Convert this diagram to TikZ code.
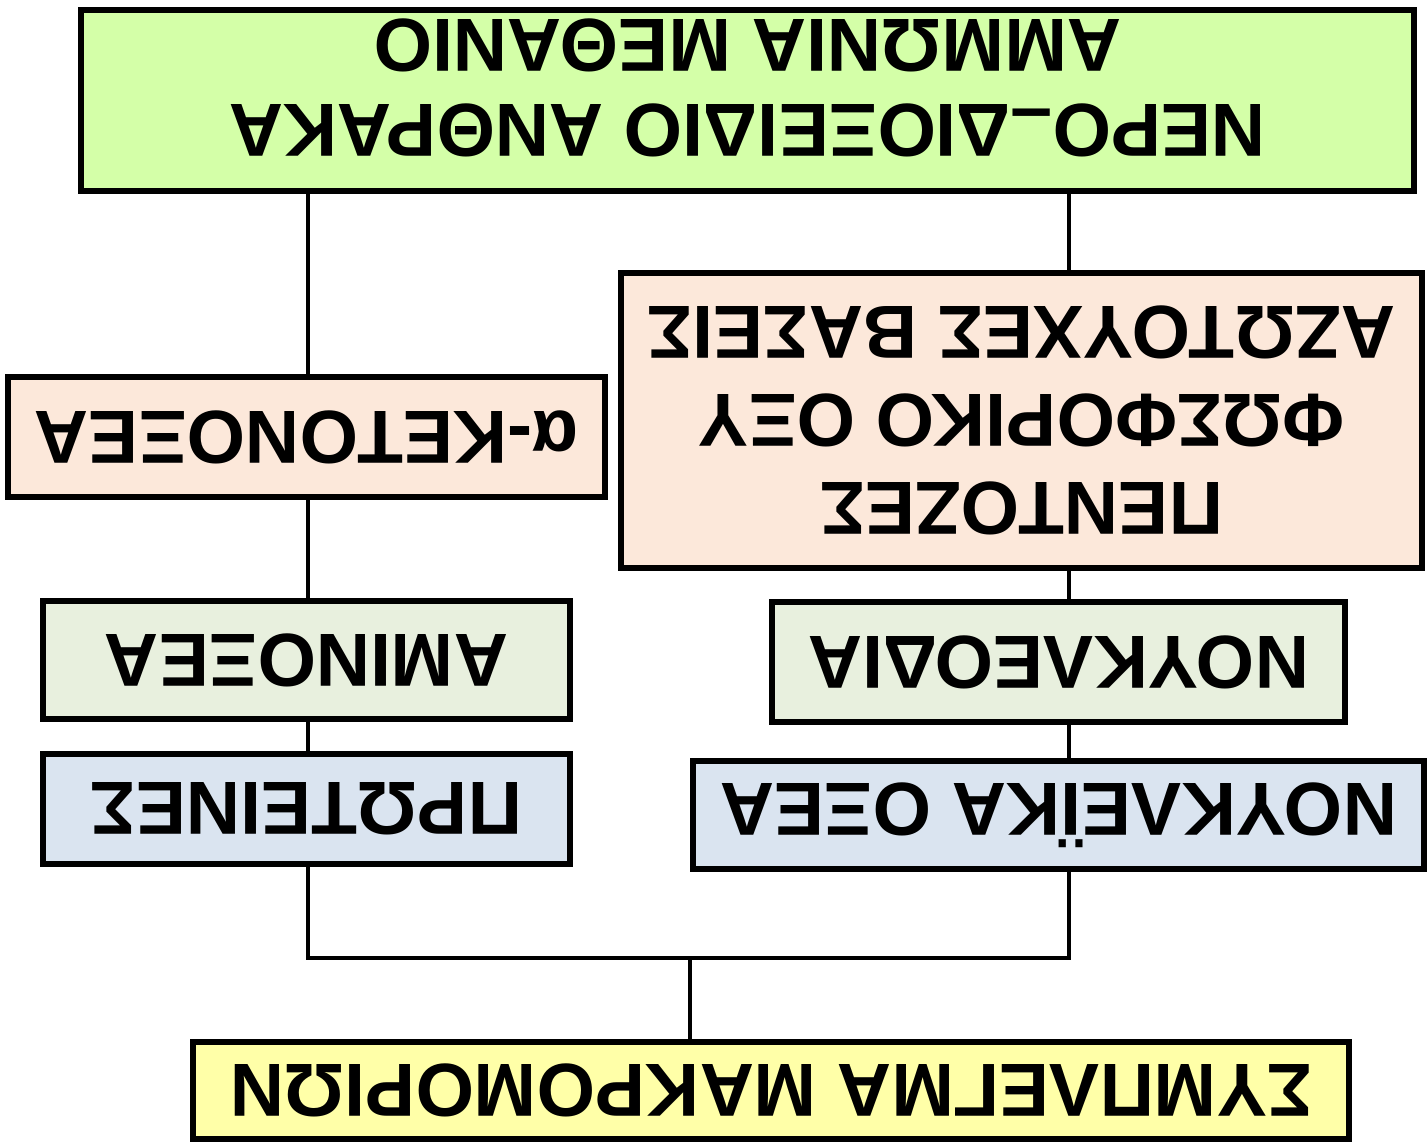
\documentclass[tikz,border=0pt]{standalone}
\usepackage{fontspec}
\setmainfont{Liberation Sans}
\usepackage{tikz}
\usetikzlibrary{positioning}
\definecolor{sumyellow}{RGB}{255,255,168}
\definecolor{acidblue}{RGB}{218,228,240}
\definecolor{unitgreen}{RGB}{232,240,222}
\definecolor{rawpeach}{RGB}{252,232,218}
\definecolor{basegreen}{RGB}{212,255,168}
\tikzstyle{tbox} = [rectangle, draw, line width=1.7pt, align=center, inner sep=0pt, font=\fontsize{21.4}{25}\selectfont\bfseries]
\tikzstyle{link} = [draw, line width=1pt]

\begin{document}
\begin{tikzpicture}[rotate=180, transform shape, node distance=1.5cm]
\useasboundingbox (0,0) rectangle (14.27,11.44);
\coordinate (ltrunk) at (3.58,0);
\coordinate (rtrunk) at (11.19,0);
\coordinate (fork) at (7.37,9.58);

\node [tbox, fill=sumyellow, minimum width=11.56cm, minimum height=0.97cm] (sum) at (6.56,10.905) {ΣΥΜΠΛΕΓΜΑ ΜΑΚΡΟΜΟΡΙΩΝ};

\node [tbox, fill=acidblue, minimum width=7.31cm, minimum height=1.08cm] (nacid) at (3.685,8.15) {ΝΟΥΚΛΕΪΚΑ ΟΞΕΑ};
\node [tbox, fill=unitgreen, minimum width=5.73cm, minimum height=1.2cm, below of=nacid, node distance=1.53cm] (nucleo) {ΝΟΥΚΛΕΟΔΙΑ};
\node [tbox, fill=rawpeach, minimum width=8.01cm, minimum height=2.95cm] (bases) at (4.055,4.205) {ΠΕΝΤΟΖΕΣ\\ΦΩΣΦΟΡΙΚΟ ΟΞΥ\\ΑΖΩΤΟΥΧΕΣ ΒΑΣΕΙΣ};

\node [tbox, fill=acidblue, minimum width=5.27cm, minimum height=1.1cm] (prot) at (11.205,8.09) {ΠΡΩΤΕΙΝΕΣ};
\node [tbox, fill=unitgreen, minimum width=5.27cm, minimum height=1.18cm, below of=prot, node distance=1.49cm] (amino) {ΑΜΙΝΟΞΕΑ};
\node [tbox, fill=rawpeach, minimum width=5.97cm, minimum height=1.2cm, below of=amino, node distance=2.23cm] (keto) {α-ΚΕΤΟΝΟΞΕΑ};

% first line strut pushes the two lines a bit off centre, as in the drawing
\node [tbox, fill=basegreen, minimum width=13.33cm, minimum height=1.81cm, font=\fontsize{21.4}{24.2}\selectfont\bfseries] (inorg) at (6.795,1.005) {\rule{0pt}{0.77cm}ΝΕΡΟ\raisebox{-0.17em}{–}ΔΙΟΞΕΙΔΙΟ ΑΝΘΡΑΚΑ\\ΑΜΜΩΝΙΑ ΜΕΘΑΝΙΟ};

\draw[link] (fork) -- (fork |- sum.south);
\draw[link] (nacid.north -| ltrunk) |- (fork -| rtrunk) -- (prot.north -| rtrunk);
\draw[link] (nacid.south -| ltrunk) -- (nucleo.north -| ltrunk);
\draw[link] (nucleo.south -| ltrunk) -- (bases.north -| ltrunk);
\draw[link] (bases.south -| ltrunk) -- (inorg.north -| ltrunk);
\draw[link] (prot.south -| rtrunk) -- (amino.north -| rtrunk);
\draw[link] (amino.south -| rtrunk) -- (keto.north -| rtrunk);
\draw[link] (keto.south -| rtrunk) -- (inorg.north -| rtrunk);
\end{tikzpicture}
\end{document}
